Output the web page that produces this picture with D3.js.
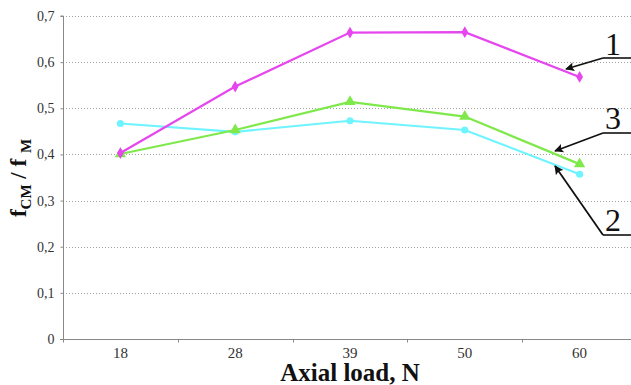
<!DOCTYPE html>
<html>
<head>
<meta charset="utf-8">
<script src="https://cdn.jsdelivr.net/npm/d3@7/dist/d3.min.js"></script>
<style>
html,body{margin:0;padding:0;background:#fff;}
svg{display:block;}
</style>
</head>
<body>
<svg id="chart" width="631" height="385"></svg>
<script>
const categories = ["18", "28", "39", "50", "60"];
const yTicks = [0, 0.1, 0.2, 0.3, 0.4, 0.5, 0.6, 0.7];
const series1 = [0.403, 0.547, 0.664, 0.665, 0.568];
const series2 = [0.467, 0.449, 0.473, 0.453, 0.357];
const series3 = [0.401, 0.453, 0.514, 0.482, 0.379];
const seriesNames = ["1", "2", "3"];
const xTitle = "Axial load, N";

(function () {
const svg = d3.select("#chart");
const serif = "'Liberation Serif', 'Times New Roman', serif";
const mLeft = 63, mTop = 16, mBottom = 339, bandW = 114.8;
const x = d3.scaleBand().domain(categories).range([mLeft, mLeft + bandW * categories.length]).padding(0);
const y = d3.scaleLinear().domain([0, 0.7]).range([mBottom, mTop]);
const fmt = v => d3.format(".1f")(v).replace(".", ",");

// gridlines
svg.append("g").selectAll("line").data(yTicks.filter(v => v > 0)).join("line")
  .attr("x1", mLeft).attr("x2", 631)
  .attr("y1", d => Math.round(y(d)) + 0.5).attr("y2", d => Math.round(y(d)) + 0.5)
  .attr("stroke", "#a0a0a0").attr("stroke-width", 1).attr("stroke-dasharray", "1,2");

// y axis
const yAxis = d3.axisLeft(y).tickValues(yTicks).tickSize(3).tickFormat(v => v === 0 ? "0" : fmt(v));
const gy = svg.append("g").attr("transform", `translate(${mLeft + 0.5},0)`).call(yAxis);
gy.attr("font-family", serif);
gy.select(".domain").attr("stroke", "#888").attr("d", `M-3,${y(0.7)}H0V${y(0)}`);
gy.selectAll(".tick line").attr("stroke", "#888");
gy.selectAll(".tick text").style("font-family", serif).attr("font-size", 14)
  .attr("fill", "#333").attr("x", -9);

// x axis
const gx = svg.append("g").attr("transform", `translate(0,${mBottom + 0.5})`);
gx.append("line").attr("x1", mLeft - 3).attr("x2", 631).attr("y1", 0).attr("y2", 0).attr("stroke", "#888");
gx.selectAll("line.tk").data(categories).join("line").attr("class", "tk")
  .attr("x1", d => Math.round(x(d)) + 0.5).attr("x2", d => Math.round(x(d)) + 0.5)
  .attr("y1", 0).attr("y2", 3).attr("stroke", "#888");
gx.selectAll("text").data(categories).join("text")
  .attr("x", d => x(d) + x.bandwidth() / 2).attr("y", 18)
  .attr("text-anchor", "middle").style("font-family", serif)
  .attr("font-size", 15).attr("fill", "#333").text(d => d);

// x title
svg.append("text").attr("x", 350).attr("y", 381).attr("text-anchor", "middle")
  .style("font-family", serif).attr("font-weight", "bold")
  .attr("font-size", 25).attr("fill", "#111").text(xTitle);

// y title
const yt = svg.append("text").attr("transform", "translate(26,178) rotate(-90)")
  .attr("text-anchor", "middle").style("font-family", serif)
  .attr("font-weight", "bold").attr("font-size", 23).attr("fill", "#111");
yt.append("tspan").text("f");
yt.append("tspan").attr("font-size", 15).attr("dy", 5).text("CM");
yt.append("tspan").attr("dy", -5).text(" / f ");
yt.append("tspan").attr("font-size", 15).attr("dy", 5).text("M");

// lines
const cx = d => x(d) + x.bandwidth() / 2;
const mk = vals => vals.map((v, i) => [cx(categories[i]), y(v)]);
const line = d3.line();
const defs = [
  {vals: series2, color: "#6ff4ff", sym: d3.symbolCircle, size: 40},
  {vals: series3, color: "#7fe84a", sym: d3.symbolTriangle, size: 55},
  {vals: series1, color: "#e646ee", sym: d3.symbolDiamond, size: 40}
];
defs.forEach(s => {
  const pts = mk(s.vals);
  svg.append("path").attr("d", line(pts)).attr("fill", "none")
    .attr("stroke", s.color).attr("stroke-width", 2.2);
  svg.append("g").selectAll("path").data(pts).join("path")
    .attr("transform", d => `translate(${d[0]},${d[1]})`)
    .attr("d", d3.symbol().type(s.sym).size(s.size)).attr("fill", s.color);
});

// annotations
const defsEl = svg.append("defs");
defsEl.append("marker").attr("id", "ah").attr("viewBox", "0 0 10 10").attr("refX", 9).attr("refY", 5)
  .attr("orient", "auto").attr("markerUnits", "userSpaceOnUse")
  .attr("markerWidth", 15).attr("markerHeight", 9)
  .append("path").attr("d", "M0,0L10,5L0,10L2,5Z").attr("fill", "#111");
const ann = [
  {name: seriesNames[0], tx: 613, ty: 55, ly: 58, ax: 566, ay: 69},
  {name: seriesNames[2], tx: 613, ty: 129, ly: 133, ax: 555, ay: 151},
  {name: seriesNames[1], tx: 613, ty: 231, ly: 235, ax: 555, ay: 166}
];
ann.forEach(a => {
  svg.append("text").attr("x", a.tx).attr("y", a.ty).attr("text-anchor", "middle")
    .style("font-family", serif).attr("font-size", 32).attr("fill", "#111").text(a.name);
  svg.append("line").attr("x1", 603).attr("x2", 631).attr("y1", a.ly).attr("y2", a.ly)
    .attr("stroke", "#111").attr("stroke-width", 1.6);
  svg.append("line").attr("x1", 603).attr("y1", a.ly).attr("x2", a.ax).attr("y2", a.ay)
    .attr("stroke", "#111").attr("stroke-width", 1.8).attr("marker-end", "url(#ah)");
});
})();
</script>
</body>
</html>
